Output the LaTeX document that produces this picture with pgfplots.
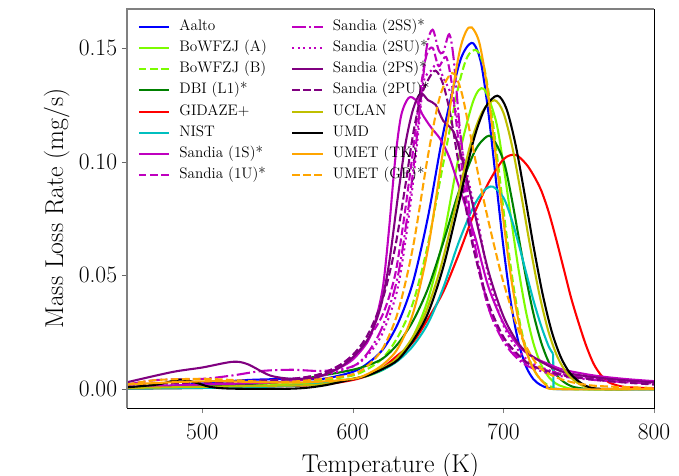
\documentclass[border=0pt]{standalone}
\usepackage{fontspec}
\usepackage{pgfplots}
\pgfplotsset{compat=1.18}
\pgfplotsset{legend image code/.code={\draw[#1] (0bp,0bp) -- (22bp,0bp);}}
\definecolor{mplgreen}{HTML}{7CFC00}
\definecolor{dkgreen}{HTML}{008000}
\definecolor{mplcyan}{HTML}{00BFBF}
\definecolor{mplmag}{HTML}{BF00BF}
\definecolor{mplpurple}{HTML}{800080}
\definecolor{mplolive}{HTML}{BFBF00}
\definecolor{mplorange}{HTML}{FFA500}
\tikzset{
  mdash/.style={dash pattern=on 5.55bp off 2.4bp},
  mdashdot/.style={dash pattern=on 9.6bp off 2.4bp on 1.5bp off 2.4bp},
  mdot/.style={dash pattern=on 1.5bp off 2.475bp},
}
\begin{document}
\begin{tikzpicture}
\begin{axis}[
  scale only axis, width=379.4bp, height=287.3bp,
  xmin=450, xmax=800, ymin=-0.00836, ymax=0.1671,
  xtick={500,600,700,800}, ytick={0,0.05,0.1,0.15},
  /pgf/number format/assume math mode=true,
  yticklabel style={/pgf/number format/.cd, fixed, fixed zerofill, precision=2, assume math mode=true},
  xticklabel style={yshift=-4bp},
  tick align=outside, tick pos=left,
  major tick length=3.6bp,
  axis line style={black, line width=0.6bp},
  ytick style={gray!80!black},
  tick label style={font=\fontsize{17}{20}\selectfont},
  label style={font=\fontsize{18.6}{22}\selectfont},
  xlabel={Temperature (K)},
  ylabel={Mass Loss Rate (mg/s)},
  xlabel style={at={(axis description cs:0.5,-0.1604)}, anchor=base},
  ylabel style={at={(axis description cs:-0.1212,0.5)}, anchor=base},
  clip mode=individual,
  legend columns=8, transpose legend,
  legend cell align=left,
  legend style={draw=none, fill=none, at={(axis description cs:0.012,0.985)}, anchor=north west,
    font=\fontsize{11}{12}\selectfont,
    nodes={inner sep=1.5bp, text height=7.5bp, text depth=2.5bp},
    row sep=2.2bp,
    /tikz/every even column/.append style={column sep=16bp},
    /tikz/every odd column/.append style={column sep=5bp}},
  every axis plot/.append style={line width=1.5bp, smooth, tension=0.5},
]
% Aalto
\addplot[blue] coordinates {(450,0.0005) (480,0.0015) (500,0.0025) (530,0.004) (560,0.0045) (580,0.0045) (600,0.0076) (610,0.0114) (620,0.0175) (630,0.0289) (640,0.0471) (650,0.076) (660,0.1125) (670,0.1414) (675,0.1497) (680,0.152) (685,0.1438) (690,0.1217) (695,0.0922) (700,0.0625) (705,0.0379) (710,0.0206) (715,0.010) (720,0.0043) (725,0.0017) (730,0.0005) (740,0) (800,0)};
\addlegendentry{Aalto}
% BoWFZJ (A)
\addplot[mplgreen] coordinates {(450,0.0003) (500,0.0008) (550,0.0018) (580,0.003) (600,0.0045) (610,0.0058) (620,0.0085) (630,0.0132) (640,0.0231) (650,0.0396) (660,0.066) (670,0.101) (680,0.1267) (687,0.132) (695,0.118) (700,0.0985) (705,0.0754) (710,0.0528) (715,0.034) (720,0.020) (725,0.0108) (730,0.0054) (735,0.0024) (740,0.001) (750,0) (800,0)};
\addlegendentry{BoWFZJ (A)}
% BoWFZJ (B)
\addplot[mplgreen, mdash] coordinates {(450,0.0003) (500,0.001) (550,0.0025) (580,0.004) (600,0.006) (610,0.0089) (620,0.0137) (630,0.0231) (640,0.038) (650,0.064) (660,0.099) (670,0.1326) (676,0.146) (682,0.149) (687,0.1419) (692,0.1224) (697,0.096) (702,0.0682) (707,0.044) (712,0.0257) (717,0.0136) (722,0.0065) (727,0.0029) (732,0.001) (740,0) (800,0)};
\addlegendentry{BoWFZJ (B)}
% DBI (L1)*
\addplot[dkgreen] coordinates {(450,0.0005) (500,0.0015) (550,0.003) (580,0.006) (600,0.0085) (610,0.0105) (620,0.0135) (630,0.020) (640,0.030) (650,0.0444) (660,0.0644) (670,0.086) (680,0.1032) (686,0.1093) (692,0.111) (700,0.1006) (705,0.0856) (710,0.0673) (715,0.049) (720,0.033) (725,0.0207) (730,0.012) (735,0.0064) (740,0.0032) (745,0.0013) (750,0.0005) (760,0) (800,0)};
\addlegendentry{DBI (L1)*}
% GIDAZE+
\addplot[red] coordinates {(450,0.0002) (500,0.0005) (550,0.0012) (580,0.002) (600,0.004) (610,0.006) (620,0.0095) (630,0.015) (640,0.0206) (650,0.031) (660,0.0427) (670,0.0587) (680,0.0762) (690,0.0906) (700,0.101) (708,0.103) (715,0.099) (720,0.094) (725,0.0875) (730,0.078) (735,0.066) (740,0.053) (745,0.040) (750,0.029) (755,0.019) (760,0.011) (765,0.006) (770,0.003) (780,0.001) (800,0.0003)};
\addlegendentry{GIDAZE+}
% NIST
\addplot[mplcyan] coordinates {(450,0.0002) (500,0.0005) (550,0.0012) (580,0.0025) (600,0.0045) (610,0.006) (620,0.0085) (630,0.0125) (640,0.019) (650,0.029) (660,0.0445) (670,0.064) (680,0.080) (687,0.0872) (693,0.089) (700,0.0842) (705,0.0756) (710,0.0641) (715,0.0514) (720,0.0389) (725,0.0279) (730,0.0189) (733,0.0155)};
\addlegendentry{NIST}
\addplot[mplcyan, sharp plot, forget plot] coordinates {(733,0.0155) (733.3,0) (800,0)};
% Sandia (1S)*
\addplot[mplmag] coordinates {(450,0.001) (500,0.002) (550,0.003) (575,0.005) (590,0.009) (600,0.013) (610,0.021) (615,0.03) (620,0.045) (624,0.07) (628,0.1) (632,0.12) (637,0.128) (642,0.127) (646,0.121) (652,0.115) (658,0.11) (664,0.102) (670,0.09) (676,0.078) (682,0.065) (690,0.045) (700,0.029) (710,0.019) (720,0.014) (730,0.011) (740,0.0085) (760,0.006) (780,0.0045) (800,0.0035)};
\addlegendentry{Sandia (1S)*}
% Sandia (1U)*
\addplot[mplmag, mdash] coordinates {(450,0.002) (500,0.003) (550,0.004) (575,0.006) (590,0.01) (600,0.015) (610,0.022) (620,0.033) (628,0.05) (634,0.075) (640,0.105) (645,0.132) (649,0.147) (653,0.15) (657,0.142) (662,0.146) (666,0.133) (670,0.11) (675,0.085) (680,0.063) (690,0.036) (700,0.022) (710,0.014) (720,0.01) (740,0.0065) (770,0.004) (800,0.003)};
\addlegendentry{Sandia (1U)*}
% Sandia (2SS)*
\addplot[mplmag, mdashdot] coordinates {(450,0.002) (470,0.004) (500,0.0045) (520,0.006) (540,0.008) (560,0.0085) (580,0.008) (600,0.01) (610,0.016) (620,0.028) (630,0.05) (638,0.085) (644,0.12) (649,0.15) (653,0.158) (657,0.149) (660,0.148) (664,0.156) (667,0.145) (671,0.115) (676,0.087) (680,0.067) (690,0.036) (700,0.021) (710,0.013) (720,0.009) (740,0.0055) (770,0.0035) (800,0.0025)};
\addlegendentry{Sandia (2SS)*}
% Sandia (2SU)*
\addplot[mplmag, mdot] coordinates {(450,0.001) (500,0.002) (550,0.004) (580,0.006) (600,0.01) (610,0.015) (620,0.025) (630,0.045) (638,0.08) (643,0.11) (647,0.135) (652,0.14) (656,0.143) (660,0.137) (665,0.13) (670,0.117) (673,0.104) (678,0.088) (683,0.074) (690,0.05) (700,0.028) (710,0.017) (720,0.011) (740,0.0065) (770,0.0035) (800,0.0025)};
\addlegendentry{Sandia (2SU)*}
% Sandia (2PS)*
\addplot[mplpurple] coordinates {(450,0.003) (480,0.0075) (500,0.0095) (520,0.012) (530,0.011) (545,0.006) (560,0.0045) (575,0.005) (590,0.009) (600,0.014) (610,0.022) (618,0.035) (624,0.055) (630,0.085) (635,0.108) (640,0.123) (645,0.13) (650,0.127) (655,0.125) (660,0.118) (667,0.113) (673,0.1) (680,0.08) (690,0.052) (700,0.032) (710,0.02) (720,0.014) (740,0.0075) (770,0.0045) (800,0.003)};
\addlegendentry{Sandia (2PS)*}
% Sandia (2PU)*
\addplot[mplpurple, mdash] coordinates {(450,0.002) (500,0.003) (550,0.004) (575,0.006) (590,0.01) (600,0.015) (610,0.024) (620,0.04) (628,0.062) (635,0.09) (640,0.112) (645,0.128) (650,0.136) (655,0.14) (660,0.134) (665,0.12) (670,0.1) (675,0.08) (680,0.062) (690,0.038) (700,0.023) (710,0.015) (720,0.01) (740,0.006) (770,0.0035) (800,0.002)};
\addlegendentry{Sandia (2PU)*}
% UCLAN
\addplot[mplolive] coordinates {(450,0.0005) (500,0.001) (550,0.0015) (578,0.002) (598,0.0043) (608,0.0059) (618,0.0088) (628,0.0127) (638,0.021) (648,0.033) (658,0.0527) (668,0.0794) (678,0.1074) (686,0.1219) (694,0.127) (700,0.1215) (706,0.1061) (712,0.0847) (718,0.0619) (724,0.0413) (730,0.0251) (736,0.014) (742,0.0071) (748,0.0033) (754,0.0011) (763,0.0001) (800,0)};
\addlegendentry{UCLAN}
% UMD
\addplot[black] coordinates {(450,0.0008) (470,0.002) (485,0.0042) (495,0.003) (505,0.001) (520,0.0002) (560,0.0002) (580,0.0015) (600,0.0044) (610,0.006) (620,0.0089) (630,0.0129) (640,0.0213) (650,0.0335) (660,0.0535) (670,0.0806) (680,0.109) (688,0.1238) (696,0.129) (702,0.1233) (708,0.1077) (714,0.086) (720,0.0628) (726,0.0419) (732,0.0255) (738,0.0142) (744,0.0072) (750,0.0034) (756,0.0011) (765,0.0001) (800,0)};
\addlegendentry{UMD}
% UMET (TK)
\addplot[mplorange] coordinates {(450,0.002) (480,0.003) (510,0.0035) (540,0.003) (570,0.003) (600,0.0045) (610,0.0067) (620,0.0108) (630,0.018) (640,0.0334) (650,0.062) (660,0.105) (670,0.1455) (675,0.157) (679,0.159) (684,0.1523) (689,0.1337) (694,0.1078) (699,0.0797) (704,0.0539) (709,0.0335) (714,0.0191) (719,0.010) (724,0.0048) (729,0.0014) (735,0) (800,0)};
\addlegendentry{UMET (TK)}
% UMET (GP)*
\addplot[mplorange, mdash] coordinates {(450,0.002) (470,0.004) (500,0.0045) (520,0.004) (550,0.003) (580,0.0045) (600,0.0065) (610,0.0104) (620,0.018) (630,0.034) (640,0.0626) (650,0.103) (658,0.129) (666,0.139) (672,0.131) (678,0.112) (684,0.092) (690,0.074) (695,0.06) (700,0.047) (710,0.026) (720,0.013) (727,0.008) (740,0.004) (760,0.0015) (800,0.0005)};
\addlegendentry{UMET (GP)*}
\draw[gray, line width=1.4bp] (rel axis cs:0,0) -- (rel axis cs:0,1) -- (rel axis cs:1,1);
\coordinate (bl) at (rel axis cs:0,0);
\coordinate (tr) at (rel axis cs:1,1);
\end{axis}
\pgfresetboundingbox
\path ([xshift=-91.4bp,yshift=-48.2bp]bl) rectangle ([xshift=18bp,yshift=6.5bp]tr);
\end{tikzpicture}
\end{document}
